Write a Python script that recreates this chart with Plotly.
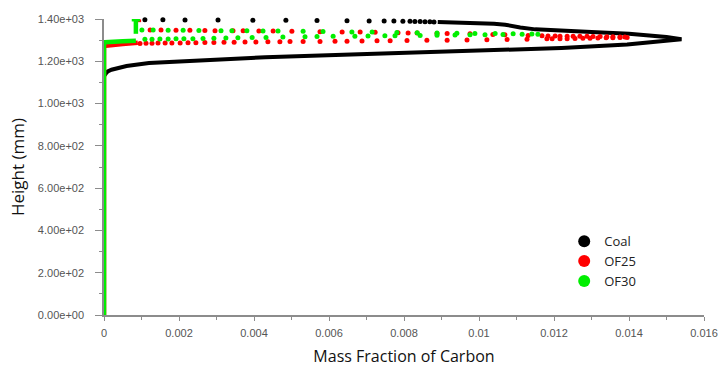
import plotly.graph_objects as go

# ---------------- data ----------------
# Coal: dense loop (drawn as thick line) + sparse dots along the top
coal_loop_x = [0, 0, 0.00005, 0.0001, 0.0002, 0.00035, 0.0006, 0.0012, 0.0026, 0.0043, 0.0068,
               0.0082, 0.0104, 0.0122, 0.01395, 0.0148, 0.0154,
               0.0150, 0.0146, 0.0140, 0.0130, 0.0122, 0.0115, 0.0111, 0.0107, 0.0104, 0.0095, 0.0089]
coal_loop_y = [0, 1130, 1142, 1152, 1160, 1168, 1178, 1192, 1206, 1219, 1233,
               1240, 1253, 1263, 1279, 1292, 1304,
               1315, 1322, 1330, 1339, 1346, 1351, 1360, 1373, 1377, 1383, 1386]
coal_dots_x = [0.00109, 0.00157, 0.00216, 0.00304, 0.00397, 0.00485, 0.00568, 0.00648, 0.00707,
               0.00747, 0.00773, 0.00797, 0.00816, 0.00829, 0.00843, 0.00856, 0.00869, 0.00880]
coal_dots_y = [1396, 1396, 1395, 1395, 1394, 1394, 1393, 1392, 1391,
               1390, 1390, 1389, 1389, 1388, 1388, 1387, 1387, 1386]

# OF25 (red)
of25_line_x = [0, 0, 0.00005, 0.0002, 0.0005, 0.0009, None, 0.00093, 0.00093]
of25_line_y = [0, 1268, 1274, 1278, 1282, 1288, None, 1385, 1398]
of25_upper_x = [0.00123, 0.00152, 0.00192, 0.00229, 0.00269, 0.00296, 0.00344, 0.00371, 0.00413, 0.00451,
                0.00501, 0.00576, 0.00635, 0.00683, 0.00723, 0.00784, 0.00811, 0.00835, 0.00888, 0.00915,
                0.00976, 0.01037, 0.01069, 0.01131, 0.01168, 0.01184, 0.01203, 0.01216, 0.01235, 0.01251,
                0.01269, 0.01288, 0.01304, 0.01323, 0.01341, 0.01357, 0.01376, 0.01389]
of25_upper_y = [1348, 1348, 1347, 1347, 1346, 1345, 1345, 1344, 1343, 1343,
                1342, 1340, 1339, 1338, 1337, 1335, 1334, 1334, 1332, 1331,
                1330, 1327, 1325, 1322, 1321, 1320, 1320, 1319, 1319, 1318,
                1318, 1318, 1317, 1317, 1316, 1316, 1315, 1315]
of25_lower_x = [0.00096, 0.00112, 0.00128, 0.00144, 0.00163, 0.00181, 0.00203, 0.00224, 0.00245, 0.00269,
                0.00293, 0.00320, 0.00347, 0.00376, 0.00405, 0.00437, 0.00469, 0.00496, 0.00531, 0.00576,
                0.00616, 0.00648, 0.00688, 0.00728, 0.00763, 0.00808, 0.00861, 0.00915, 0.00968, 0.01021,
                0.01075, 0.01128, 0.01181, 0.01195, 0.01216, 0.01235, 0.01256, 0.01277, 0.01296, 0.01317,
                0.01339, 0.01357, 0.01376, 0.01395]
of25_lower_y = [1284, 1285, 1285, 1286, 1286, 1287, 1287, 1288, 1288, 1289,
                1289, 1290, 1290, 1291, 1291, 1292, 1292, 1293, 1293, 1294,
                1295, 1295, 1296, 1297, 1297, 1298, 1299, 1300, 1301, 1302,
                1303, 1304, 1306, 1306, 1307, 1307, 1308, 1309, 1309, 1310,
                1311, 1311, 1312, 1313]

# OF30 (green)
of30_line_x = [0, 0, 0.00003, 0.0002, 0.0005, 0.00085, None, 0.00085, 0.00085, None, 0.00074, 0.00096]
of30_line_y = [0, 1285, 1290, 1293, 1295, 1297, None, 1330, 1398, None, 1399, 1399]
of30_upper_x = [0.00101, 0.00131, 0.00171, 0.00211, 0.00253, 0.00312, 0.00341, 0.00381, 0.00424, 0.00464,
                0.00531, 0.00584, 0.00661, 0.00715, 0.00781, 0.00835, 0.00888, 0.00941, 0.00989, 0.01043,
                0.01091, 0.01141]
of30_upper_y = [1348, 1348, 1347, 1347, 1346, 1345, 1345, 1344, 1343, 1343,
                1342, 1341, 1339, 1338, 1336, 1335, 1334, 1333, 1332, 1331,
                1330, 1329]
of30_lower_x = [0.00109, 0.00128, 0.00149, 0.00171, 0.00192, 0.00213, 0.00237, 0.00264, 0.00293, 0.00325,
                0.00357, 0.00395, 0.00432, 0.00477, 0.00536, 0.00568, 0.00611, 0.00669, 0.00704, 0.00749,
                0.00776, 0.00843, 0.00888, 0.00936, 0.00976, 0.01016, 0.01064, 0.01115, 0.01157]
of30_lower_y = [1304, 1304, 1305, 1305, 1306, 1306, 1307, 1308, 1309, 1310,
                1311, 1312, 1313, 1315, 1316, 1317, 1318, 1319, 1320, 1321,
                1321, 1322, 1323, 1324, 1325, 1326, 1327, 1328, 1328]

x_ticks = [0, 0.002, 0.004, 0.006, 0.008, 0.01, 0.012, 0.014, 0.016]
x_tick_labels = ["0", "0.002", "0.004", "0.006", "0.008", "0.01", "0.012", "0.014", "0.016"]
y_ticks = [0, 200, 400, 600, 800, 1000, 1200, 1400]
y_tick_labels = ["0.00e+00", "2.00e+02", "4.00e+02", "6.00e+02", "8.00e+02",
                 "1.00e+03", "1.20e+03", "1.40e+03"]

series_names = ["Coal", "OF25", "OF30"]
colors = ["#000000", "#ff0000", "#00ee00"]

# ---------------- figure ----------------
fig = go.Figure()

def add_series(line_x, line_y, dot_sets, color, lw):
    fig.add_trace(go.Scatter(x=line_x, y=line_y, mode="lines", line=dict(color=color, width=lw, shape="linear"),
                             showlegend=False, hoverinfo="skip", cliponaxis=False))
    for dx, dy in dot_sets:
        fig.add_trace(go.Scatter(x=dx, y=dy, mode="markers", marker=dict(color=color, size=5),
                                 showlegend=False, hoverinfo="skip", cliponaxis=False))

add_series(coal_loop_x, coal_loop_y, [(coal_dots_x, coal_dots_y)], colors[0], 4)
add_series(of25_line_x, of25_line_y, [(of25_upper_x, of25_upper_y), (of25_lower_x, of25_lower_y)], colors[1], 4.5)
add_series(of30_line_x, of30_line_y, [(of30_upper_x, of30_upper_y), (of30_lower_x, of30_lower_y)], colors[2], 4.5)

# legend entries
for name, c in zip(series_names, colors):
    fig.add_trace(go.Scatter(x=[None], y=[None], mode="markers", name=name,
                             marker=dict(color=c, size=12)))

tick_font = dict(family="Liberation Sans, Arial", size=11, color="#555555")
axis_color = "#8c8c8c"

fig.update_layout(
    width=720, height=367,
    margin=dict(l=104, r=16, t=19, b=52, autoexpand=False),
    paper_bgcolor="white", plot_bgcolor="white",
    showlegend=True,
    legend=dict(x=0.767, y=0.30, xanchor="left", yanchor="top",
                font=dict(family="Open Sans", size=13, color="#222222"),
                bgcolor="rgba(0,0,0,0)", tracegroupgap=0),
    xaxis=dict(range=[0, 0.016], tickvals=x_ticks, ticktext=x_tick_labels, automargin=False,
               showgrid=False, zeroline=False, showline=True, linecolor=axis_color, linewidth=1.5,
               ticks="outside", ticklen=4, tickcolor=axis_color, tickfont=tick_font,
               ticklabelstandoff=3, ticklabeloverflow="allow",
               minor=dict(dtick=0.001, ticks="outside", ticklen=3, tickcolor=axis_color),
               title=dict(text="Mass Fraction of Carbon", standoff=13,
                          font=dict(family="Open Sans", size=16, color="#111111"))),
    yaxis=dict(range=[0, 1400], tickvals=y_ticks, ticktext=y_tick_labels, automargin=False,
               showgrid=False, zeroline=False, showline=True, linecolor=axis_color, linewidth=1.5,
               ticks="outside", ticklen=7, tickcolor=axis_color, tickfont=tick_font,
               ticklabelstandoff=9,
               minor=dict(dtick=100, ticks="outside", ticklen=3, tickcolor=axis_color),
               title=dict(text="Height (mm)", standoff=9,
                          font=dict(family="Open Sans", size=17, color="#111111"))),
)

# remove the browser's default 8px body margin so the 720x367 figure fills the window exactly
fig.write_html("out.html", config={"displayModeBar": False},
               post_script="document.body.style.margin='0';document.body.style.overflow='hidden';")
